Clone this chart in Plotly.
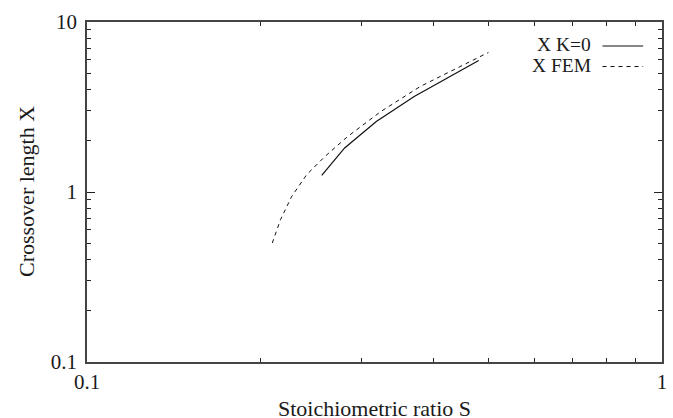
import plotly.graph_objects as go

# Data
s_k0 = [0.256, 0.2806, 0.3185, 0.3707, 0.480]
x_k0 = [1.252, 1.815, 2.60, 3.65, 5.94]

s_fem = [0.210, 0.217, 0.227, 0.241, 0.2594, 0.284, 0.3246, 0.380, 0.499]
x_fem = [0.501, 0.687, 0.942, 1.264, 1.62, 2.12, 2.98, 4.18, 6.62]

x_ticks = [0.1, 1]
x_tick_text = ["0.1", "1"]
x_minor = [0.2, 0.3, 0.4, 0.5, 0.6, 0.7, 0.8, 0.9]
y_ticks = [0.1, 1, 10]
y_tick_text = ["0.1", "1", "10"]
y_minor = [0.2, 0.3, 0.4, 0.5, 0.6, 0.7, 0.8, 0.9, 2, 3, 4, 5, 6, 7, 8, 9]

FONT = "Liberation Serif, Times New Roman, serif"
FS_TICK = 21
FS_TITLE = 22
FS_KEY = 19.5
AX = "#444444"
TXT = "#1a1a1a"

fig = go.Figure()
fig.add_trace(go.Scatter(x=s_k0, y=x_k0, mode="lines", name="X K=0",
                         line=dict(color="#111111", width=1.2)))
fig.add_trace(go.Scatter(x=s_fem, y=x_fem, mode="lines", name="X FEM",
                         line=dict(color="#111111", width=1.0, dash="4px,4px")))
# invisible helper trace so the minor-tick overlay axes are drawn
fig.add_trace(go.Scatter(x=s_k0, y=x_k0, mode="lines", xaxis="x2", yaxis="y2",
                         line=dict(width=0.5, color="rgba(0,0,0,0)"), hoverinfo="skip",
                         showlegend=False))

# main axes: long ticks and labels at the decades
def main_axis(ticks, text, rng, standoff):
    return dict(
        type="log", range=rng, tickmode="array", tickvals=ticks, ticktext=text,
        showgrid=False, zeroline=False,
        showline=True, linecolor=AX, linewidth=1.5, mirror="ticks",
        ticks="inside", ticklen=8, tickwidth=1.3, tickcolor="#222222",
        ticklabelstandoff=standoff,
        tickfont=dict(family=FONT, size=FS_TICK, color=TXT),
    )

# overlay axes: short ticks at 2..9 of each decade
def minor_axis(vals, rng, overlay, anchor):
    return dict(
        overlaying=overlay, anchor=anchor,
        type="log", range=rng, tickmode="array", tickvals=vals,
        ticktext=[""] * len(vals), showticklabels=True,
        showgrid=False, zeroline=False,
        showline=True, linecolor=AX, linewidth=1.5, mirror="allticks",
        ticks="inside", ticklen=4.5, tickwidth=1.3, tickcolor="#222222",
    )

fig.update_layout(
    width=673, height=418,
    margin=dict(l=87, r=6, t=22, b=56),
    paper_bgcolor="white", plot_bgcolor="white",
    showlegend=False,
    font=dict(family=FONT, size=FS_TICK, color=TXT),
    xaxis=main_axis(x_ticks, x_tick_text, [-1, 0], 0),
    yaxis=main_axis(y_ticks, y_tick_text, [-1, 1], 4),
    xaxis2=minor_axis(x_minor, [-1, 0], "x", "y2"),
    yaxis2=minor_axis(y_minor, [-1, 1], "y", "x2"),
)

# Axis titles
fig.add_annotation(text="Stoichiometric ratio S", xref="paper", yref="paper",
                   x=0.5, y=0, yshift=-46, showarrow=False, yanchor="middle",
                   font=dict(family=FONT, size=FS_TITLE, color=TXT))
fig.add_annotation(text="Crossover length X", xref="paper", yref="paper",
                   x=0, y=0.5, xshift=-61, showarrow=False, textangle=-90,
                   xanchor="center", yanchor="middle",
                   font=dict(family=FONT, size=FS_TITLE, color=TXT))

# Gnuplot-style key (text then line sample)
legend_rows = [("X K=0", None, 1.2), ("X FEM", "4px,4px", 1.0)]
for i, (label, dash, w) in enumerate(legend_rows):
    yp = 1 - (23 + 20.5 * i) / 340.0
    fig.add_annotation(text=label, xref="paper", yref="paper", x=(597 - 87) / 580.0, y=yp,
                       xanchor="right", yanchor="middle", showarrow=False,
                       font=dict(family=FONT, size=FS_KEY, color=TXT))
    fig.add_shape(type="line", xref="paper", yref="paper",
                  x0=(607 - 87) / 580.0, x1=(648 - 87) / 580.0, y0=yp - 1 / 340, y1=yp - 1 / 340,
                  line=dict(color="#111111", width=w, dash=dash))

fig.write_html("out.html")
